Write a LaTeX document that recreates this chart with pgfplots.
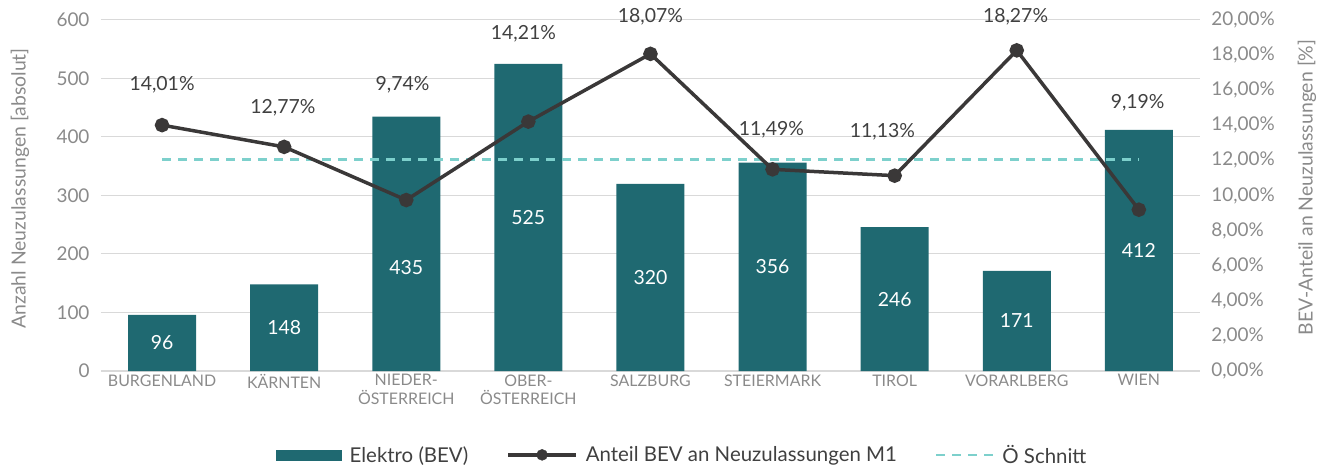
\documentclass[border=0pt]{standalone}
\usepackage{pgfplots}
\pgfplotsset{compat=1.18}
\usepackage{fontspec}
\setmainfont{Lato}
\definecolor{barc}{HTML}{1F6971}
\definecolor{linec}{HTML}{3A3838}
\definecolor{dashc}{HTML}{7DD0CC}
\definecolor{tickc}{HTML}{8A8A8A}
\definecolor{gridc}{HTML}{D9D9D9}
\definecolor{labc}{HTML}{404040}
\begin{document}
\begin{tikzpicture}
\begin{axis}[
  name=ax1,
  scale only axis, width=1099bp, height=351bp,
  xmin=-0.5, xmax=8.5, ymin=0, ymax=600,
  axis x line*=bottom, axis y line*=left,
  y axis line style={draw=none},
  x axis line style={draw=gridc, line width=1.2bp, -},
  tick style={draw=none},
  /pgf/number format/assume math mode=true,
  ytick={0,100,...,600},
  xtick={0,...,8},
  xticklabels={BURGENLAND,K\"ARNTEN,{NIEDER-\\\"OSTERREICH},{OBER-\\\"OSTERREICH},SALZBURG,STEIERMARK,TIROL,VORARLBERG,WIEN},
  xticklabel style={align=center, font=\fontsize{16}{19}\selectfont, text=tickc},
  yticklabel style={font=\fontsize{19}{21}\selectfont, text=tickc, xshift=-8bp},
  ymajorgrids, grid style={draw=gridc, line width=1bp},
  every axis y label/.style={at={(axis description cs:-0.0737,0.52)}, rotate=90, anchor=center},
  ylabel={Anzahl Neuzulassungen [absolut]},
  ylabel style={font=\fontsize{19.5}{21}\selectfont, text=tickc},
  clip=false,
]
\addplot[ybar, bar width=68bp, fill=barc, draw=none] coordinates {
  (0,96) (1,148) (2,435) (3,525) (4,320) (5,356) (6,246) (7,171) (8,412)};
\addplot[draw=none, mark=none, nodes near coords, point meta=explicit symbolic,
  nodes near coords style={anchor=center, text=white, font=\fontsize{19.5}{21}\selectfont}] coordinates {
  (0,48)[96] (1,74)[148] (2,176)[435] (3,262.5)[525] (4,160)[320] (5,178)[356] (6,123)[246] (7,85.5)[171] (8,206)[412]};
\end{axis}
\begin{axis}[
  name=ax2,
  scale only axis, width=1099bp, height=351bp,
  xmin=-0.5, xmax=8.5, ymin=0, ymax=20,
  axis x line=none, axis y line*=right,
  y axis line style={draw=none},
  tick style={draw=none},
  ytick={0,2,...,20},
  yticklabels={{0,00\%},{2,00\%},{4,00\%},{6,00\%},{8,00\%},{10,00\%},{12,00\%},{14,00\%},{16,00\%},{18,00\%},{20,00\%}},
  yticklabel style={font=\fontsize{19}{21}\selectfont, text=tickc, anchor=west, xshift=8bp},
  every axis y label/.style={at={(axis description cs:1.0974,0.523)}, rotate=90, anchor=center},
  ylabel={BEV-Anteil an Neuzulassungen [\%]},
  ylabel style={font=\fontsize{19.5}{21}\selectfont, text=tickc},
  clip=false,
  legend columns=3,
  legend style={at={(0.529,-0.239)}, anchor=center, draw=none, fill=none,
    font=\fontsize{20.5}{22}\selectfont, text=labc,
    /tikz/every even column/.append style={column sep=36bp},
    /tikz/every odd column/.append style={column sep=6bp}},
]
\addlegendimage{legend image code/.code={\fill[barc] (0bp,-5bp) rectangle (65bp,5bp);}}
\addlegendentry{Elektro (BEV)}
\addlegendimage{legend image code/.code={\draw[linec, line width=3.5bp] (0bp,0bp) -- (68bp,0bp); \fill[linec] (34bp,0bp) circle (5.5bp);}}
\addlegendentry{Anteil BEV an Neuzulassungen M1}
\addlegendimage{legend image code/.code={\draw[dashc, line width=2.5bp, dash pattern=on 9bp off 7bp] (0bp,0bp) -- (57bp,0bp);}}
\addlegendentry{\"O Schnitt}
\addplot[forget plot, dashc, line width=2.5bp, dash pattern=on 9bp off 7bp] coordinates {(0,12.04) (8,12.04)};
\addplot[forget plot, linec, line width=3.5bp, mark=*, mark size=5.5bp, mark options={fill=linec, draw=linec}] coordinates {
  (0,14.01) (1,12.77) (2,9.74) (3,14.21) (4,18.07) (5,11.49) (6,11.13) (7,18.27) (8,9.19)};
\addplot[forget plot, draw=none, mark=none, nodes near coords, point meta=explicit symbolic,
  nodes near coords style={anchor=center, text=labc, font=\fontsize{19.5}{21}\selectfont}] coordinates {
  (0,16.30)[14,01\%] (0.99,14.99)[12,77\%] (1.97,16.30)[9,74\%] (2.96,19.20)[14,21\%] (4,20.17)[18,07\%]
  (4.99,13.73)[11,49\%] (5.9,13.62)[11,13\%] (6.99,20.17)[18,27\%] (7.99,15.27)[9,19\%]};
\end{axis}
\pgfresetboundingbox
\path[use as bounding box] (ax1.south west) ++(-101bp,-97bp) rectangle ++(1329bp,468bp);
\end{tikzpicture}
\end{document}
